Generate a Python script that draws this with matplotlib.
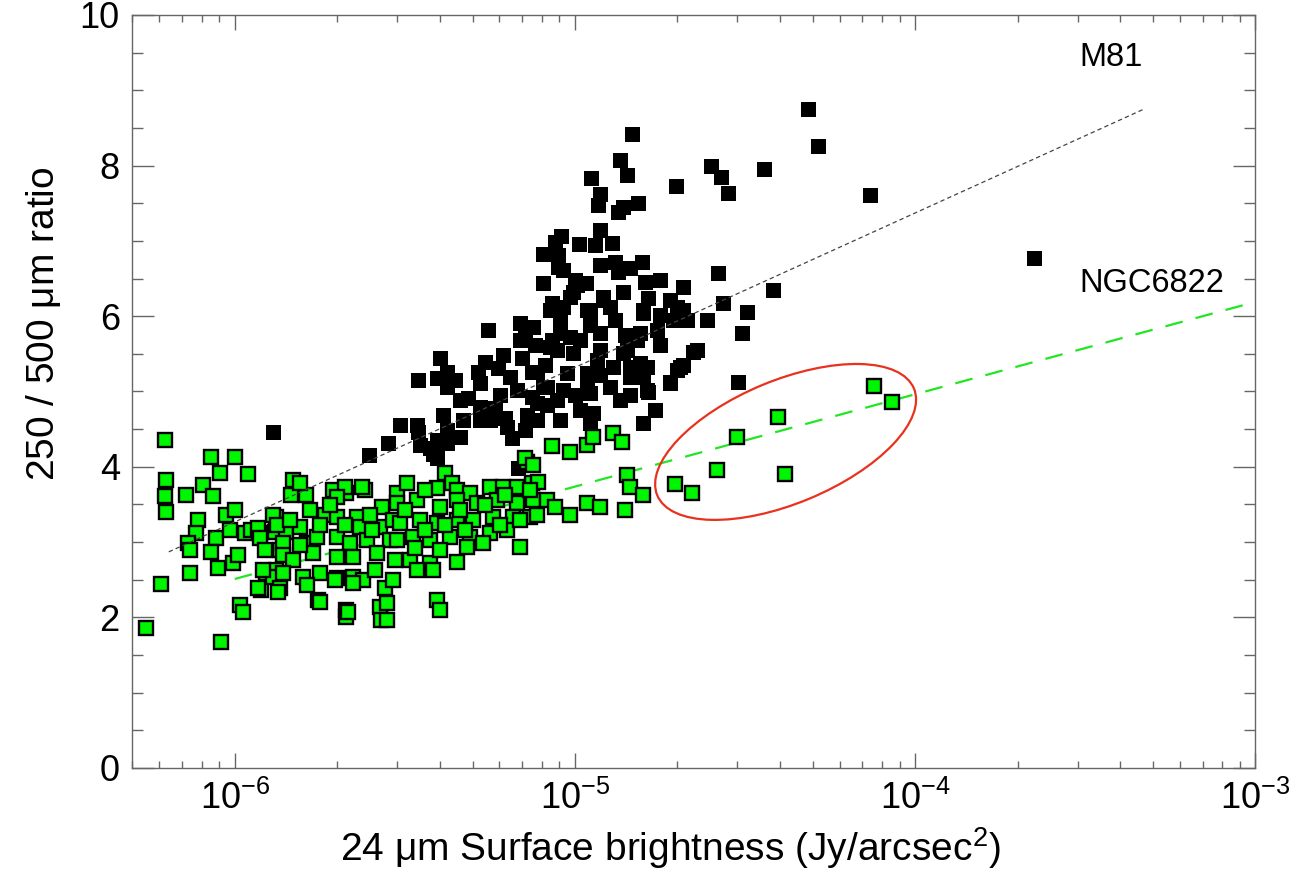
import numpy as np
import matplotlib
matplotlib.use("Agg")
import matplotlib.pyplot as plt
from matplotlib import transforms
from matplotlib.patches import Ellipse
from matplotlib.ticker import LogLocator, MultipleLocator, NullFormatter

plt.rcParams['font.family'] = ['Liberation Sans', 'DejaVu Sans']
plt.rcParams['mathtext.fontset'] = 'custom'
plt.rcParams['mathtext.rm'] = 'Liberation Sans'
plt.rcParams['mathtext.it'] = 'Liberation Sans:italic'

# M81 pixels: log10 of 24um surface brightness (Jy/arcsec^2) and 250/500 ratio
m81_logx = [
    -4.314, -4.287, -4.134, -3.652, -4.443, -4.599, -4.570, -4.549, -4.702, -4.832,
    -4.867, -4.846, -4.952, -4.926, -4.932, -4.814, -4.858, -4.873, -5.041, -4.926,
    -4.988, -4.941, -4.891, -5.094, -5.049, -4.882, -4.802, -5.035, -4.873, -4.838,
    -4.793, -5.094, -4.967, -5.005, -4.682, -4.785, -4.720, -4.858, -4.917, -5.067,
    -4.699, -5.050, -5.073, -4.994, -5.014, -4.964, -4.917, -5.255, -5.161, -5.147,
    -5.161, -5.067, -5.014, -4.926, -5.053, -5.397, -5.376, -5.406, -5.376, -5.461,
    -5.264, -5.285, -5.279, -5.211, -5.226, -5.155, -5.126, -5.191, -5.170, -5.126,
    -5.314, -5.279, -5.235, -5.388, -5.329, -5.279, -5.205, -5.141, -5.185, -5.200,
    -5.514, -5.461, -5.550, -5.376, -5.376, -5.338, -5.426, -5.406, -5.167, -5.888,
    -5.606, -5.035, -4.955, -4.896, -4.799, -4.670, -5.123, -5.044, -4.985, -5.073,
    -5.005, -4.808, -4.758, -4.846, -4.641, -4.935, -4.888, -4.838, -4.788, -4.690,
    -5.111, -5.023, -5.094, -5.035, -4.964, -4.896, -4.838, -4.788, -4.720, -5.111,
    -5.052, -4.985, -4.946, -5.111, -4.799, -4.579, -4.417, -4.564, -4.493, -4.611,
    -4.508, -4.682, -4.799, -4.711, -4.817, -4.652, -4.682, -4.699, -4.808, -4.799,
    -4.720, -4.785, -4.520, -4.964, -4.858, -4.955, -5.464, -5.082, -5.117, -5.088,
    -5.417, -5.406, -4.955, -5.044, -4.955, -4.882, -4.852, -4.926, -4.749, -4.749,
    -4.926, -4.867, -4.764, -5.044, -5.000, -4.838, -5.082, -5.220, -5.250, -5.147,
    -5.000, -4.926, -5.058, -5.338, -5.352, -5.456, -4.749,
]
m81_ratio = [
    8.75, 8.26, 7.61, 6.77, 7.96, 7.99, 7.85, 7.64, 7.73, 8.42,
    8.07, 7.88, 7.84, 7.62, 7.48, 7.50, 7.45, 7.38, 7.07, 7.14,
    6.96, 6.95, 6.97, 6.83, 6.81, 6.72, 6.72, 6.61, 6.59, 6.64,
    6.45, 6.44, 6.44, 6.32, 6.39, 6.24, 6.22, 6.32, 6.25, 6.18,
    6.12, 6.65, 6.08, 6.41, 6.25, 6.08, 6.22, 5.82, 5.91, 5.82,
    5.68, 5.68, 5.72, 5.78, 5.55, 5.44, 5.26, 5.18, 5.06, 5.15,
    5.39, 5.26, 5.11, 5.48, 5.31, 5.44, 5.26, 5.19, 5.02, 4.93,
    4.91, 4.79, 4.78, 4.69, 4.62, 4.62, 4.65, 4.69, 4.38, 4.53,
    4.56, 4.46, 4.32, 4.49, 4.32, 4.40, 4.25, 4.12, 3.98, 4.46,
    4.16, 6.12, 6.08, 6.12, 6.08, 5.95, 5.86, 5.78, 5.68, 5.59,
    5.51, 5.78, 5.82, 5.55, 5.55, 5.42, 5.33, 5.33, 5.33, 5.33,
    5.26, 5.25, 5.06, 5.02, 5.11, 5.06, 5.19, 5.02, 5.11, 4.85,
    4.89, 4.75, 4.71, 4.62, 4.58, 6.57, 6.35, 6.18, 6.06, 5.95,
    5.78, 6.08, 6.04, 5.95, 5.68, 5.52, 5.35, 5.29, 5.38, 5.19,
    5.13, 4.99, 5.13, 5.25, 5.51, 4.98, 4.56, 5.06, 5.62, 5.35,
    4.17, 4.36, 4.58, 5.95, 5.88, 5.95, 5.75, 5.55, 5.62, 6.02,
    5.22, 4.89, 4.75, 4.62, 4.95, 4.95, 4.82, 4.95, 4.62, 4.49,
    6.48, 6.68, 6.99, 4.89, 5.15, 4.29, 6.48,
]

# NGC6822 pixels
ngc_logx = [
    -6.206, -6.071, -6.000, -6.044, -5.962, -6.203, -6.206, -6.203, -6.144, -6.094,
    -6.065, -5.829, -5.791, -5.835, -6.109, -6.115, -6.138, -6.132, -6.056, -6.071,
    -6.050, -6.006, -5.991, -6.026, -6.000, -5.971, -5.953, -5.926, -5.879, -5.882,
    -5.868, -5.909, -5.879, -5.923, -6.132, -6.218, -6.262, -6.041, -5.985, -5.976,
    -5.809, -5.712, -5.673, -5.617, -5.850, -5.888, -5.868, -5.756, -5.673, -5.673,
    -5.573, -5.570, -5.676, -5.626, -5.700, -5.567, -5.523, -5.888, -5.876, -5.932,
    -5.926, -5.809, -5.735, -5.700, -5.641, -5.632, -5.573, -5.535, -5.859, -5.788,
    -5.759, -5.700, -5.662, -5.612, -5.544, -5.859, -5.829, -5.770, -5.700, -5.653,
    -5.582, -5.918, -5.859, -5.800, -5.750, -5.700, -5.653, -5.623, -5.932, -5.873,
    -5.788, -5.750, -5.706, -5.653, -5.667, -5.559, -5.553, -5.553, -5.382, -5.361,
    -5.141, -5.126, -5.494, -5.406, -5.347, -5.308, -5.250, -5.211, -5.170, -5.523,
    -5.464, -5.397, -5.347, -5.288, -5.229, -5.170, -5.123, -5.514, -5.456, -5.406,
    -5.347, -5.299, -5.241, -5.182, -5.132, -5.523, -5.476, -5.426, -5.367, -5.308,
    -5.250, -5.200, -5.161, -5.485, -5.426, -5.347, -5.535, -5.464, -5.417, -5.317,
    -5.270, -5.067, -5.014, -4.964, -4.946, -4.888, -4.861, -5.147, -5.123, -5.108,
    -5.132, -5.082, -5.058, -5.111, -5.014, -4.964, -4.926, -4.846, -4.838, -4.799,
    -4.852, -5.406, -5.397, -4.705, -4.655, -4.582, -4.523, -4.402, -4.384, -4.120,
    -4.067, -5.779, -5.750, -5.720, -5.676, -5.603, -5.597, -5.500, -5.441, -5.441,
    -5.382, -5.338, -5.323, -5.264, -5.220, -5.205, -5.161, -5.470, -5.397, -5.809,
    -5.838, -5.912, -6.015, -5.529, -5.588,
]
ngc_ratio = [
    4.36, 4.13, 4.13, 3.92, 3.90, 3.82, 3.61, 3.40, 3.63, 3.76,
    3.61, 3.82, 3.63, 3.63, 3.29, 3.12, 2.99, 2.90, 3.05, 2.87,
    2.66, 2.72, 2.83, 3.36, 3.43, 3.12, 3.16, 3.12, 3.33, 3.13,
    2.90, 2.59, 2.63, 2.36, 2.59, 2.44, 1.86, 1.67, 2.16, 2.07,
    3.78, 3.69, 3.65, 3.69, 3.13, 2.54, 2.39, 2.23, 2.10, 2.01,
    2.14, 1.97, 3.73, 3.73, 3.60, 3.47, 3.65, 3.36, 3.23, 3.19,
    3.05, 3.20, 3.36, 3.33, 3.33, 3.20, 3.20, 3.29, 2.99, 2.99,
    3.07, 3.07, 2.99, 3.03, 3.03, 2.83, 2.76, 2.86, 2.80, 2.80,
    2.86, 2.63, 2.59, 2.54, 2.59, 2.52, 2.54, 2.50, 2.39, 2.34,
    2.43, 2.20, 2.50, 2.46, 2.07, 2.39, 2.19, 1.97, 3.92, 3.78,
    4.06, 3.78, 3.78, 3.72, 3.69, 3.65, 3.73, 3.73, 3.73, 3.52,
    3.56, 3.47, 3.56, 3.52, 3.56, 3.52, 3.56, 3.25, 3.29, 3.25,
    3.29, 3.29, 3.33, 3.33, 3.33, 3.03, 3.07, 3.03, 3.07, 3.07,
    3.12, 3.16, 2.93, 2.76, 2.72, 2.74, 2.50, 2.63, 2.63, 2.93,
    2.99, 4.28, 4.20, 4.29, 4.40, 4.45, 4.33, 4.12, 4.02, 3.80,
    3.69, 3.56, 3.47, 3.36, 3.36, 3.52, 3.47, 3.89, 3.73, 3.63,
    3.43, 2.23, 2.10, 3.77, 3.65, 3.96, 4.40, 4.66, 3.90, 5.07,
    4.86, 3.43, 3.23, 3.49, 3.23, 3.36, 3.16, 3.43, 3.69, 3.16,
    3.23, 3.43, 3.16, 3.49, 3.23, 3.63, 3.29, 2.92, 2.90, 2.96,
    3.29, 2.90, 3.16, 2.76, 2.63,
]

# straight-line fits (ratio vs log surface brightness)
m81_fit_x = [6.4e-7, 4.7e-4]
m81_fit_y = [2.87, 8.75]
ngc_fit_x = [1.0e-6, 1.0e-3]
ngc_fit_y = [2.51, 6.19]

fig = plt.figure(figsize=(12.92, 8.72), dpi=100)
ax = fig.add_axes([0.1024, 0.1193, 0.8693, 0.8635])

ax.plot(10 ** np.array(m81_logx), m81_ratio, 's', color='black', ms=10.8,
        mew=0, zorder=2)
gl, = ax.plot(ngc_fit_x, ngc_fit_y, color='#22e622', lw=1.6, zorder=3)
gl.set_dashes([8, 6])
ax.plot(10 ** np.array(ngc_logx), ngc_ratio, 's', color='#00f500', ms=10,
        mec='black', mew=1.7, zorder=4)
bl, = ax.plot(m81_fit_x, m81_fit_y, color='#444444', lw=0.9, zorder=5)
bl.set_dashes([3.5, 2.5])

# ring round the brightest NGC6822 pixels
off = fig.dpi_scale_trans + transforms.ScaledTranslation(4.16e-5, 4.33, ax.transData)
ring = Ellipse((0, 0), 2.78, 1.23, angle=22.6, fill=False, edgecolor='#e8321e',
               lw=1.6, transform=off, zorder=6)
ax.add_patch(ring)

ax.text(3.03e-4, 9.44, 'M81', fontsize=23.5, va='center', ha='left')
ax.text(3.03e-4, 6.44, 'NGC6822', fontsize=23.5, va='center', ha='left')

ax.set_xscale('log')
ax.set_xlim(5e-7, 1e-3)
ax.set_ylim(0, 10)
ax.xaxis.set_major_locator(LogLocator(base=10, numticks=10))
ax.xaxis.set_minor_locator(LogLocator(base=10, subs=np.arange(2, 10), numticks=20))
ax.xaxis.set_minor_formatter(NullFormatter())
ax.yaxis.set_major_locator(MultipleLocator(2))
ax.yaxis.set_minor_locator(MultipleLocator(0.5))

ax.tick_params(which='both', direction='in', top=True, right=True,
               color='#666666', width=1, labelsize=26)
ax.tick_params(axis='x', which='major', length=11, pad=9)
ax.tick_params(axis='x', which='minor', length=5)
ax.tick_params(axis='y', which='major', length=16, pad=9)
ax.tick_params(axis='y', which='minor', length=8)
for s in ax.spines.values():
    s.set_color('#666666')
    s.set_linewidth(1)

ax.set_xlabel(r'24 $\mathdefault{\mu}$m Surface brightness (Jy/arcsec$^{2}$)', fontsize=28)
ax.set_ylabel(r'250 / 500 $\mathdefault{\mu}$m ratio', fontsize=28)
ax.xaxis.set_label_coords(0.479, -0.076)
ax.yaxis.set_label_coords(-0.062, 0.59)

fig.savefig('out.png', dpi=100)
